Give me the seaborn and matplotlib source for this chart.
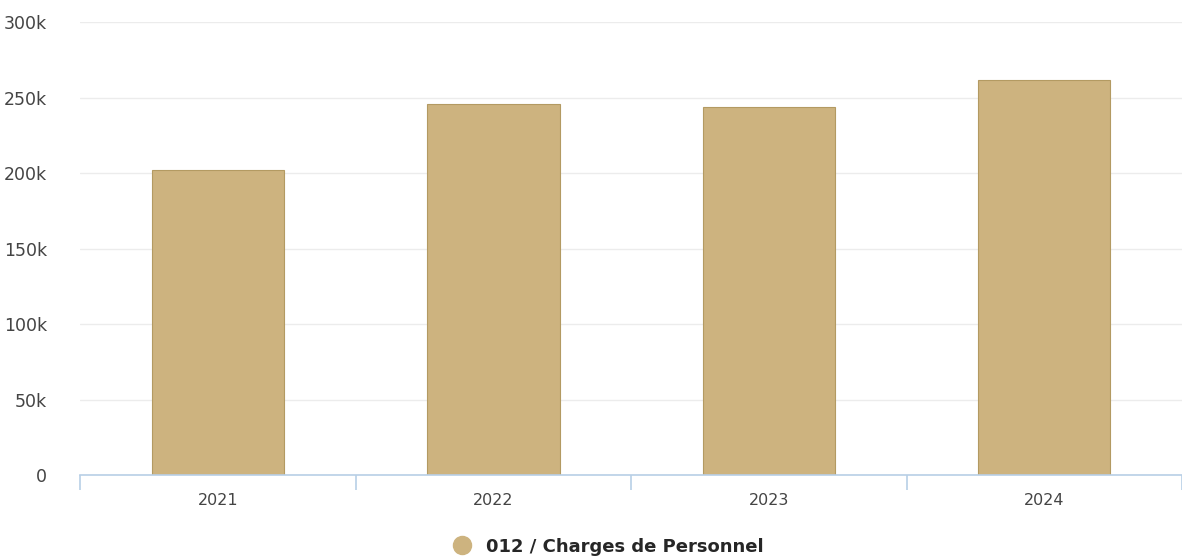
import pandas as pd
import matplotlib.pyplot as plt
import seaborn as sns
from matplotlib.lines import Line2D
from matplotlib.ticker import FuncFormatter, FixedLocator

years = ["2021", "2022", "2023", "2024"]
charges = [202000, 246000, 244000, 262000]
series_name = "012 / Charges de Personnel"
bar_color = "#cdb37f"

df = pd.DataFrame({"Annee": years, "Montant": charges})

sns.set_style("white")
plt.rcParams["font.family"] = ["DejaVu Sans"]

fig = plt.figure(figsize=(11.82, 5.59), dpi=100)
ax = fig.add_axes([0.068, 0.15, 0.932, 0.81])

sns.barplot(data=df, x="Annee", y="Montant", color=bar_color, width=0.48,
            edgecolor="#b39a62", linewidth=0.8, saturation=1, ax=ax)

ax.set_ylim(0, 300000)
ax.set_xlim(-0.5, 3.5)
ax.set_yticks([0, 50000, 100000, 150000, 200000, 250000, 300000])
ax.yaxis.set_major_formatter(FuncFormatter(lambda v, p: "0" if v == 0 else f"{int(v/1000)}k"))
ax.grid(axis="y", color="#ececec", linewidth=1)
ax.set_axisbelow(True)

for s in ["top", "right", "left"]:
    ax.spines[s].set_visible(False)
ax.spines["bottom"].set_color("#b8cfe6")
ax.spines["bottom"].set_linewidth(1.2)

# y labels
ax.tick_params(axis="y", length=0, pad=24, labelsize=12.5, labelcolor="#444444")
# category labels, with separator ticks between categories like highcharts
ax.tick_params(axis="x", which="major", bottom=True, length=0, pad=13,
               labelsize=11.5, labelcolor="#444444")
ax.xaxis.set_minor_locator(FixedLocator([-0.5, 0.5, 1.5, 2.5, 3.5]))
ax.tick_params(axis="x", which="minor", bottom=True, length=11, width=1.2,
               color="#b8cfe6")
ax.set_xlabel("")
ax.set_ylabel("")

handle = Line2D([], [], marker="o", linestyle="", markersize=13,
                markerfacecolor=bar_color, markeredgecolor=bar_color)
fig.legend([handle], [series_name], loc="center", bbox_to_anchor=(0.511, 0.022),
           frameon=False, handletextpad=0.3, prop={"weight": "bold", "size": 13})

fig.savefig("out.png", dpi=100, facecolor="white")
